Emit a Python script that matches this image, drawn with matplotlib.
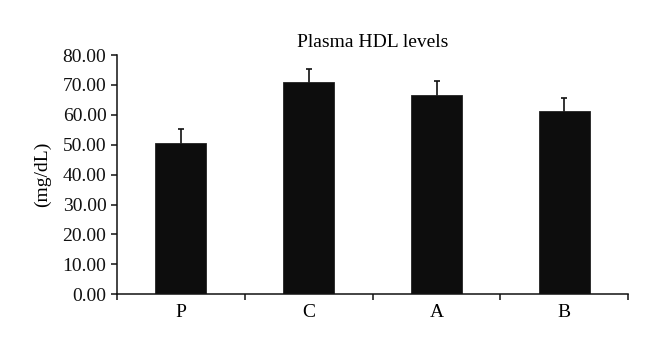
import matplotlib.pyplot as plt
import numpy as np

groups = ["P", "C", "A", "B"]
hdl_mean = [50.7, 70.9, 66.8, 61.3]
hdl_err = [4.5, 4.5, 4.4, 4.4]
yticks = [0, 10, 20, 30, 40, 50, 60, 70, 80]

plt.rcParams["font.family"] = ["Liberation Serif", "DejaVu Serif"]

fig = plt.figure(figsize=(6.6, 3.51), dpi=100)
ax = fig.add_axes([0.177, 0.162, 0.775, 0.681])

x = np.arange(len(groups))
# symmetric bars drawn behind the columns so only the upper half shows
ax.errorbar(x, hdl_mean, yerr=hdl_err, fmt="none", ecolor="#111111",
            elinewidth=1.2, capsize=2.2, capthick=1.2, zorder=1)
ax.bar(x, hdl_mean, width=0.4, color="#0d0d0d", edgecolor="#222222",
       linewidth=0.6, zorder=2)

ax.set_xlim(-0.5, len(groups) - 0.5)
ax.set_ylim(0, 80)
ax.set_yticks(yticks)
ax.set_yticklabels([f"{v:.2f}" for v in yticks], fontsize=14)

ax.set_xticks(np.arange(len(groups) + 1) - 0.5)
ax.set_xticklabels([])
ax.set_xticks(x, minor=True)
ax.set_xticklabels(groups, minor=True, fontsize=14)
ax.tick_params(axis="x", which="minor", length=0, pad=7)
ax.tick_params(axis="both", which="major", length=4, width=1.1, direction="out", colors="#111111")

for s in ["top", "right"]:
    ax.spines[s].set_visible(False)
for s in ["left", "bottom"]:
    ax.spines[s].set_linewidth(1.1)
    ax.spines[s].set_color("#111111")

ax.set_title("Plasma HDL levels", fontsize=14, pad=6)
ax.set_ylabel("(mg/dL)", fontsize=14, labelpad=8)

fig.savefig("out.png", dpi=100)
